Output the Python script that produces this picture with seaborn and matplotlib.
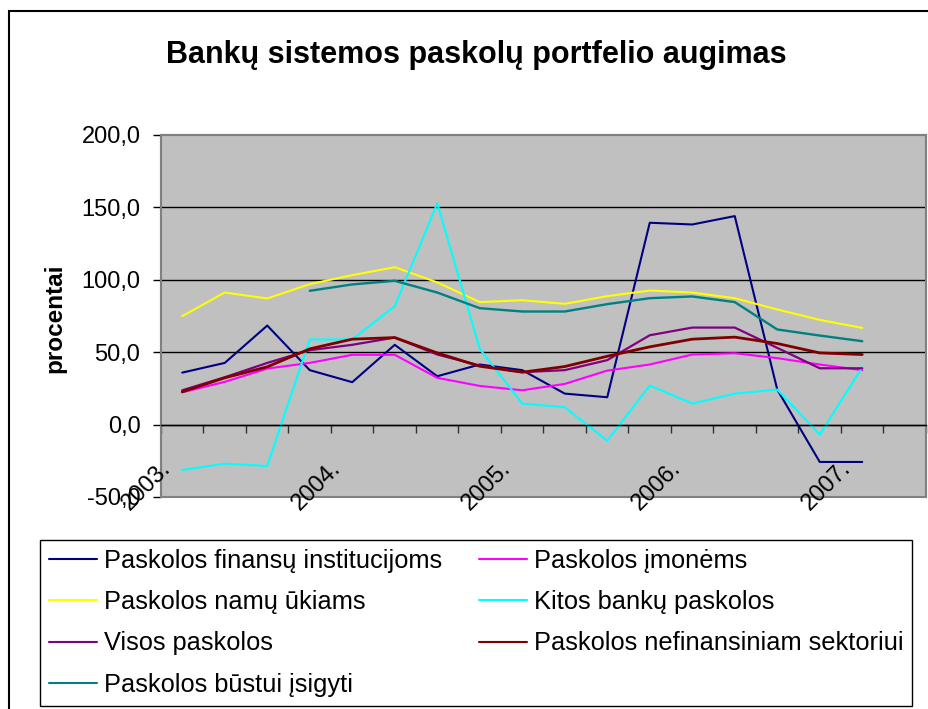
import numpy as np
import pandas as pd
import matplotlib
matplotlib.use("Agg")
import matplotlib.pyplot as plt
from matplotlib.patches import Rectangle
from matplotlib.transforms import ScaledTranslation
from matplotlib.ticker import FuncFormatter
import seaborn as sns

sns.set_theme(style="white")
plt.rcParams["font.family"] = ["Liberation Sans", "DejaVu Sans"]
plt.rcParams["text.color"] = "black"
plt.rcParams["xtick.color"] = "black"
plt.rcParams["ytick.color"] = "black"
plt.rcParams["axes.labelcolor"] = "black"

# --------------------------------------------------
# data (quarterly growth, %)
# --------------------------------------------------

quarters = [
    "2003 Q1", "2003 Q2", "2003 Q3", "2003 Q4",
    "2004 Q1", "2004 Q2", "2004 Q3", "2004 Q4",
    "2005 Q1", "2005 Q2", "2005 Q3", "2005 Q4",
    "2006 Q1", "2006 Q2", "2006 Q3", "2006 Q4",
    "2007 Q1",
]
year_labels = ["2003.", "2004.", "2005.", "2006.", "2007."]
label_quarters = ["2003 Q1", "2004 Q1", "2005 Q1", "2006 Q1", "2007 Q1"]

finansu_institucijoms = [35.9, 42.6, 68.4, 37.6, 29.3, 55.1, 33.4, 41.5, 37.6,
                         21.4, 18.9, 139.4, 138.2, 144.0, 24.2, -25.8, -25.8]
imonems = [22.3, 29.5, 38.7, 42.6, 48.2, 48.2, 32.3, 26.7, 23.7,
           28.1, 37.3, 41.5, 48.4, 49.3, 45.9, 41.5, 37.6]
namu_ukiams = [74.9, 91.2, 87.1, 97.0, 103.2, 108.7, 98.2, 84.6, 85.9,
               83.4, 88.7, 92.6, 91.2, 87.3, 79.5, 72.3, 66.8]
kitos = [-31.3, -27.0, -28.6, 58.8, 58.8, 81.8, 152.8, 52.3, 14.5,
         12.0, -11.1, 27.0, 14.5, 21.4, 24.2, -6.9, 39.6]
visos = [23.7, 32.7, 42.6, 51.4, 55.1, 60.1, 48.4, 40.8, 36.2,
         37.6, 44.5, 61.7, 67.0, 67.0, 53.0, 38.9, 38.9]
nefinansiniam = [22.6, 32.3, 39.9, 52.3, 59.0, 60.1, 49.5, 40.3, 36.2,
                 40.1, 47.2, 53.7, 59.0, 60.4, 56.0, 49.5, 48.4]
bustui = [np.nan, np.nan, np.nan, 92.4, 96.8, 99.3, 91.2, 80.4, 78.1,
          78.1, 83.2, 87.3, 88.5, 84.6, 65.7, 61.5, 57.6]

series_names = [
    "Paskolos finansų institucijoms",
    "Paskolos įmonėms",
    "Paskolos namų ūkiams",
    "Kitos bankų paskolos",
    "Visos paskolos",
    "Paskolos nefinansiniam sektoriui",
    "Paskolos būstui įsigyti",
]
series_values = [finansu_institucijoms, imonems, namu_ukiams, kitos,
                 visos, nefinansiniam, bustui]
series_colors = ["#000080", "#FF00FF", "#FFFF00", "#00FFFF",
                 "#800080", "#800000", "#008080"]
series_widths = [1.5, 1.5, 1.5, 1.5, 1.6, 2.0, 1.7]

y_ticks = [-50, 0, 50, 100, 150, 200]

df = pd.DataFrame({name: vals for name, vals in zip(series_names, series_values)})
df["pos"] = np.arange(len(quarters))

# --------------------------------------------------
# figure
# --------------------------------------------------

W, H = 929, 709
fig = plt.figure(figsize=(W / 100, H / 100), dpi=100)
ax = fig.add_axes([161 / W, 1 - 497 / H, (926 - 161) / W, (497 - 135) / H])
ax.set_facecolor("#C0C0C0")

for name, color, lw in zip(series_names, series_colors, series_widths):
    sns.lineplot(data=df, x="pos", y=name, color=color, linewidth=lw,
                 label=name, ax=ax)
ax.get_legend().remove()

ax.set_xlim(-0.5, len(quarters) + 0.5)
ax.set_ylim(y_ticks[0], y_ticks[-1])
ax.set_yticks(y_ticks)
ax.yaxis.set_major_formatter(FuncFormatter(lambda v, p: f"{v:.1f}".replace(".", ",")))
ax.set_xlabel("")
ax.set_ylabel("")

# category axis crosses at zero, tick marks between categories
ax.spines["bottom"].set_position(("data", 0))
ax.spines["bottom"].set_color("black")
ax.spines["bottom"].set_linewidth(1.0)
for s in ["top", "right", "left"]:
    ax.spines[s].set_color("#808080")
    ax.spines[s].set_linewidth(1.5)
ax.patch.set_edgecolor("#808080")
ax.patch.set_linewidth(1.5)

ax.set_xticks([])
ax.set_xticks(np.arange(-0.5, len(quarters) + 1, 1), minor=True)
ax.tick_params(axis="x", which="minor", bottom=True, direction="out",
               length=5.8, width=1.0, color="#303030")
ax.tick_params(axis="y", left=True, direction="out", length=5.8, width=1.0,
               color="black", labelcolor="black", labelsize=17, pad=9)

ax.yaxis.grid(True, color="black", linewidth=1.0)
gl = ax.yaxis.get_gridlines()
gl[0].set_visible(False)
gl[-1].set_visible(False)

# rotated year labels under the zero line
offset = ScaledTranslation(-0.36, -0.615, fig.dpi_scale_trans)
for q, lab in zip(label_quarters, year_labels):
    ax.text(quarters.index(q), 0, lab, rotation=45, rotation_mode="anchor",
            ha="center", va="center", fontsize=17, color="black",
            transform=ax.transData + offset)

fig.text(476.5 / W, 1 - 63.3 / H, "Bankų sistemos paskolų portfelio augimas",
         ha="center", va="baseline", fontsize=22, fontweight="bold",
         color="black")
fig.text(55 / W, 1 - 318 / H, "procentai", rotation=90, ha="center",
         va="center", fontsize=17.5, fontweight="bold", color="black")

# legend: Excel fills row by row, matplotlib column by column
handles, labels = ax.get_legend_handles_labels()
order = [0, 2, 4, 6, 1, 3, 5]
leg = fig.legend([handles[i] for i in order], [labels[i] for i in order],
                 ncol=2, loc="upper left",
                 bbox_to_anchor=(40 / W, 1 - 540 / H),
                 bbox_transform=fig.transFigure,
                 frameon=True, fancybox=False, framealpha=1,
                 edgecolor="black", fontsize=18.3, labelcolor="black",
                 handlelength=1.88, handletextpad=0.28, borderpad=0.35,
                 labelspacing=0.68, columnspacing=1.45, borderaxespad=0)
leg.get_frame().set_linewidth(1.0)
for h in leg.get_lines():
    h.set_linewidth(1.5)

# outer chart border (cut by the image on right and bottom)
fig.patches.append(Rectangle((9 / W, -0.2), 2, 1.2 - 11 / H, fill=False,
                             edgecolor="black", linewidth=1.5,
                             transform=fig.transFigure, figure=fig))

fig.savefig("out.png", dpi=100)
